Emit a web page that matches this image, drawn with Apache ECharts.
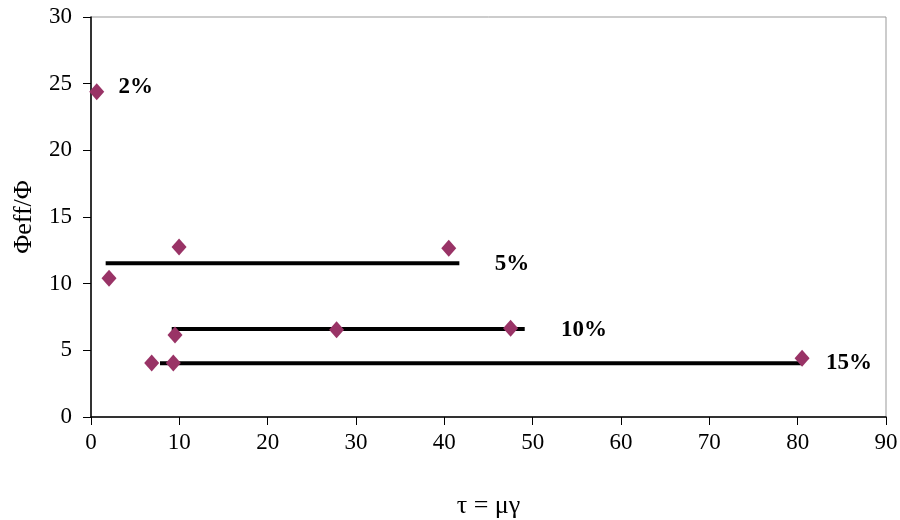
<!DOCTYPE html>
<html><head><meta charset="utf-8">
<script src="https://cdn.jsdelivr.net/npm/echarts@6/dist/echarts.min.js"></script>
<style>html,body{margin:0;padding:0;background:#fff}#c{width:900px;height:520px}</style>
</head><body><div id="c"></div>
<script>
const xTicks = [0,10,20,30,40,50,60,70,80,90];
const yTicks = [0,5,10,15,20,25,30];
const pointsX = [0.65, 9.97, 40.5, 2.04, 9.51, 27.8, 47.5, 6.87, 9.32, 80.5];
const pointsY = [24.4, 12.75, 12.65, 10.4, 6.15, 6.55, 6.65, 4.05, 4.05, 4.4];
const line5 = [[1.66, 11.53],[41.7, 11.53]];
const line10 = [[9.14, 6.6],[49.1, 6.6]];
const line15 = [[7.81, 4.04],[80.5, 4.04]];
const labelText = ['2%','5%','10%','15%'];
const labelX = [3.1, 45.7, 53.2, 83.2];
const labelY = [24.75, 11.5, 6.5, 4.05];

const font = 'Liberation Serif, DejaVu Serif, serif';
const chart = echarts.init(document.getElementById('c'));
const lineSeries = (d) => ({type:'line', data:d, symbol:'none', lineStyle:{color:'#000', width:4, opacity:1}, z:2, silent:true});
chart.setOption({
  animation:false,
  grid:{left:91, right:14, top:17, bottom:103, containLabel:false, outerBoundsMode:'none',
    show:true, borderColor:'#999', borderWidth:1},
  xAxis:{type:'value', min:0, max:90, interval:10,
    name:'τ = μγ', nameLocation:'middle', nameGap:76,
    nameTextStyle:{fontFamily:font, fontSize:26, color:'#000'},
    axisLine:{show:true, onZero:false, lineStyle:{color:'#000', width:1.5}},
    axisTick:{show:true, length:8, lineStyle:{color:'#000'}},
    axisLabel:{fontFamily:font, fontSize:23, color:'#000', margin:14},
    splitLine:{show:false}},
  yAxis:{type:'value', min:0, max:30, interval:5,
    name:'Φeff/Φ', nameLocation:'middle', nameGap:54,
    nameTextStyle:{fontFamily:font, fontSize:26, color:'#000'},
    axisLine:{show:true, onZero:false, lineStyle:{color:'#000', width:1.5}},
    axisTick:{show:true, length:8, lineStyle:{color:'#000'}},
    axisLabel:{fontFamily:font, fontSize:23, color:'#000', margin:19},
    splitLine:{show:false}},
  series:[
    lineSeries(line5), lineSeries(line10), lineSeries(line15),
    {type:'scatter', data:pointsX.map((x,i)=>[x,pointsY[i]]), symbol:'diamond', symbolSize:[15,17],
      itemStyle:{color:'#993366', opacity:1}, z:5},
    {type:'scatter', data:labelX.map((x,i)=>[x,labelY[i],labelText[i]]), symbolSize:0, z:6,
      itemStyle:{opacity:1},
      label:{show:true, position:'right', distance:0, formatter:p=>p.data[2],
        fontFamily:font, fontSize:23, fontWeight:'bold', color:'#000'}}
  ]
});
</script></body></html>
